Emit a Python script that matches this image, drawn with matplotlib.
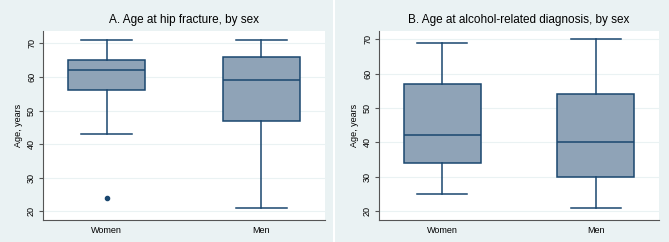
import matplotlib
matplotlib.use("Agg")
import matplotlib.pyplot as plt
from matplotlib.lines import Line2D

plt.rcParams['font.family'] = ['Liberation Sans', 'DejaVu Sans']

groups = ["Women", "Men"]

# panel A: age at hip fracture (five-number summaries + outliers)
hip_stats = {
    "Women": dict(whislo=43, q1=56, med=62, q3=65, whishi=71, fliers=[24]),
    "Men": dict(whislo=21, q1=47, med=59, q3=66, whishi=71, fliers=[]),
}
# panel B: age at alcohol-related diagnosis
alc_stats = {
    "Women": dict(whislo=25, q1=34, med=42, q3=57, whishi=69, fliers=[]),
    "Men": dict(whislo=21, q1=30, med=40, q3=54, whishi=70, fliers=[]),
}
titles = ["A. Age at hip fracture, by sex",
          "B. Age at alcohol-related diagnosis, by sex"]
yticks = [20, 30, 40, 50, 60, 70]

bg = "#eaf2f3"
navy = "#1a476f"
fill = "#8fa3b7"

fig = plt.figure(figsize=(6.69, 2.42), dpi=100, facecolor=bg)
ax_a = fig.add_axes([43 / 669, 22 / 242, 282 / 669, 189 / 242])
ax_b = fig.add_axes([379 / 669, 22 / 242, 280 / 669, 189 / 242])
fig.add_artist(Line2D([334 / 669, 334 / 669], [0, 1], color="white", lw=1.5,
                      transform=fig.transFigure))


def draw(ax, stats, title, ylim):
    bxp = [dict(label=g, **stats[g]) for g in groups]
    ax.bxp(bxp, positions=[1, 2], widths=0.5, patch_artist=True,
           boxprops=dict(facecolor=fill, edgecolor=navy, lw=1.1),
           medianprops=dict(color=navy, lw=1.1),
           whiskerprops=dict(color=navy, lw=1.1),
           capprops=dict(color=navy, lw=1.1),
           capwidths=0.33,
           flierprops=dict(marker="o", markerfacecolor=navy,
                           markeredgecolor=navy, markersize=3))
    ax.set_xlim(0.59, 2.41)
    ax.set_ylim(*ylim)
    ax.set_yticks(yticks)
    ax.set_yticklabels([str(t) for t in yticks], rotation=90, va="center")
    ax.grid(axis="y", color=bg, lw=0.8)
    ax.set_axisbelow(True)
    ax.tick_params(axis="y", labelsize=6.5, length=3, color="#555555", pad=2)
    ax.tick_params(axis="x", labelsize=6.5, length=0, pad=4)
    ax.set_ylabel("Age, years", fontsize=6.5, labelpad=3)
    ax.set_title(title, fontsize=8.5, pad=6)
    for s in ["top", "right"]:
        ax.spines[s].set_visible(False)
    for s in ["left", "bottom"]:
        ax.spines[s].set_color("#555555")
        ax.spines[s].set_linewidth(0.8)


draw(ax_a, hip_stats, titles[0], (17.4, 73.7))
draw(ax_b, alc_stats, titles[1], (17.4, 72.4))

fig.savefig("out.png", dpi=100, facecolor=bg)
